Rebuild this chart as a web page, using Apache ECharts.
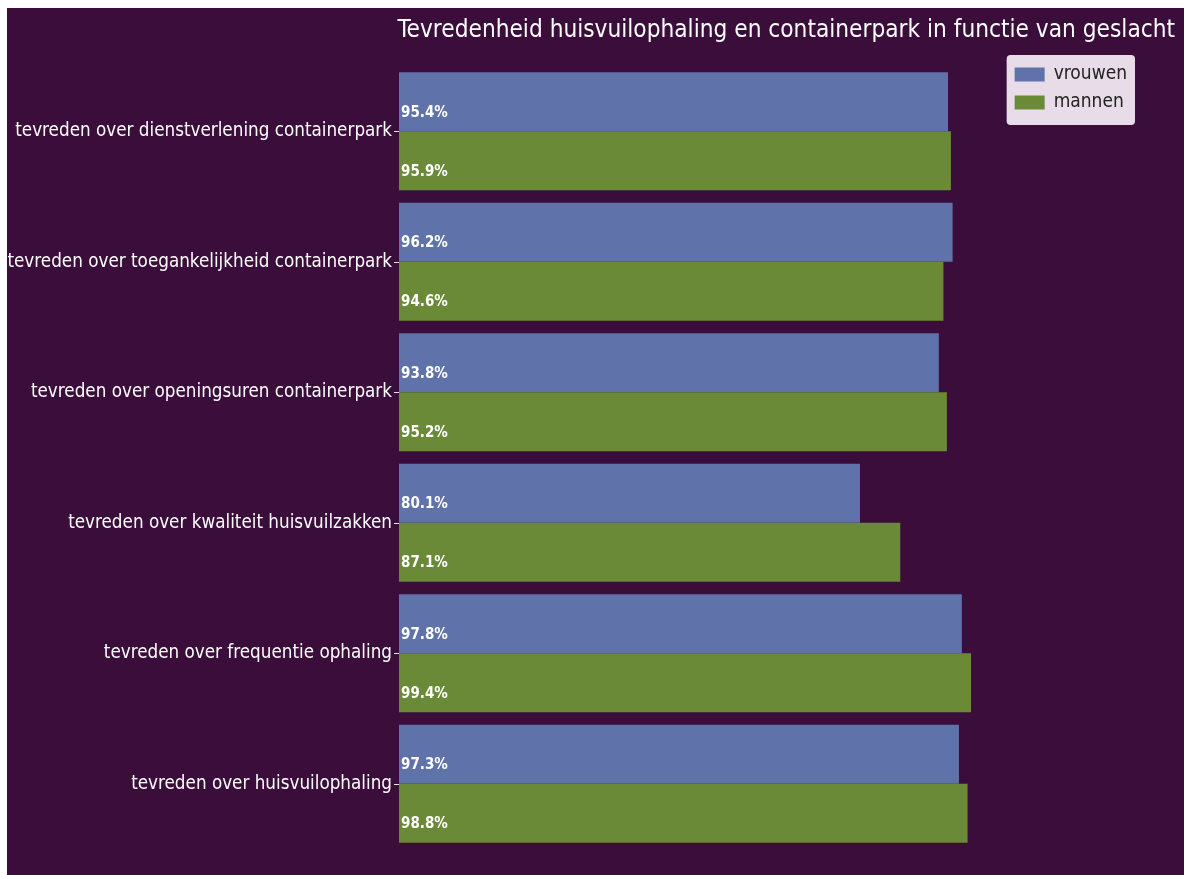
<!DOCTYPE html>
<html>
<head>
<meta charset="utf-8">
<script src="https://cdn.jsdelivr.net/npm/echarts@6/dist/echarts.min.js"></script>
<style>
html,body{margin:0;padding:0;background:#ffffff;width:1184px;height:875px;overflow:hidden;}
#chart{position:absolute;left:7px;top:8px;width:1177px;height:867px;}
</style>
</head>
<body>
<div id="chart"></div>
<script>
const categories = [
  'tevreden over dienstverlening containerpark',
  'tevreden over toegankelijkheid containerpark',
  'tevreden over openingsuren containerpark',
  'tevreden over kwaliteit huisvuilzakken',
  'tevreden over frequentie ophaling',
  'tevreden over huisvuilophaling'
];
const vrouwen = [95.4, 96.2, 93.8, 80.1, 97.8, 97.3];
const mannen = [95.9, 94.6, 95.2, 87.1, 99.4, 98.8];
const seriesNames = ['vrouwen', 'mannen'];
const titleText = 'Tevredenheid huisvuilophaling en containerpark in functie van geslacht';

const FONT = '"DejaVu Sans Condensed", "DejaVu Sans", sans-serif';
const chart = echarts.init(document.getElementById('chart'));
const labelCfg = {
  show: true,
  position: 'insideLeft',
  distance: 2,
  offset: [0, 11],
  formatter: '{c}%',
  color: '#ffffff',
  fontFamily: FONT,
  fontWeight: 'bold',
  fontSize: 15
};
chart.setOption({
  backgroundColor: '#3a0d3a',
  animation: false,
  title: {
    text: titleText,
    right: 4,
    top: 6,
    textStyle: {color: '#ffffff', fontFamily: FONT, fontWeight: 'normal', fontSize: 24.2}
  },
  legend: {
    orient: 'vertical',
    right: 49,
    top: 47,
    data: seriesNames,
    icon: 'rect',
    itemWidth: 30,
    itemHeight: 14,
    itemGap: 9,
    padding: [10, 8, 13, 8],
    backgroundColor: 'rgba(240,232,240,0.95)',
    borderRadius: 4,
    textStyle: {color: '#222222', fontFamily: FONT, fontSize: 19, padding: [0, 0, 0, 4]}
  },
  grid: {left: 392, top: 58, width: 575.5, height: 783, containLabel: false, outerBoundsMode: 'none'},
  xAxis: {type: 'value', min: 0, max: 100, show: false},
  yAxis: {
    type: 'category',
    inverse: true,
    data: categories,
    axisLine: {show: false},
    axisTick: {show: true, alignWithLabel: true, length: 5, lineStyle: {color: '#e8e0e8'}},
    axisLabel: {color: '#ffffff', fontFamily: FONT, fontSize: 18.7, margin: 7},
    splitLine: {show: false}
  },
  series: [
    {name: seriesNames[0], type: 'bar', data: vrouwen, barGap: '0%', barCategoryGap: '9.6%',
     itemStyle: {color: '#5f72aa'}, label: labelCfg},
    {name: seriesNames[1], type: 'bar', data: mannen, barGap: '0%', barCategoryGap: '9.6%',
     itemStyle: {color: '#6a8a38'}, label: labelCfg}
  ]
});
</script>
</body>
</html>
